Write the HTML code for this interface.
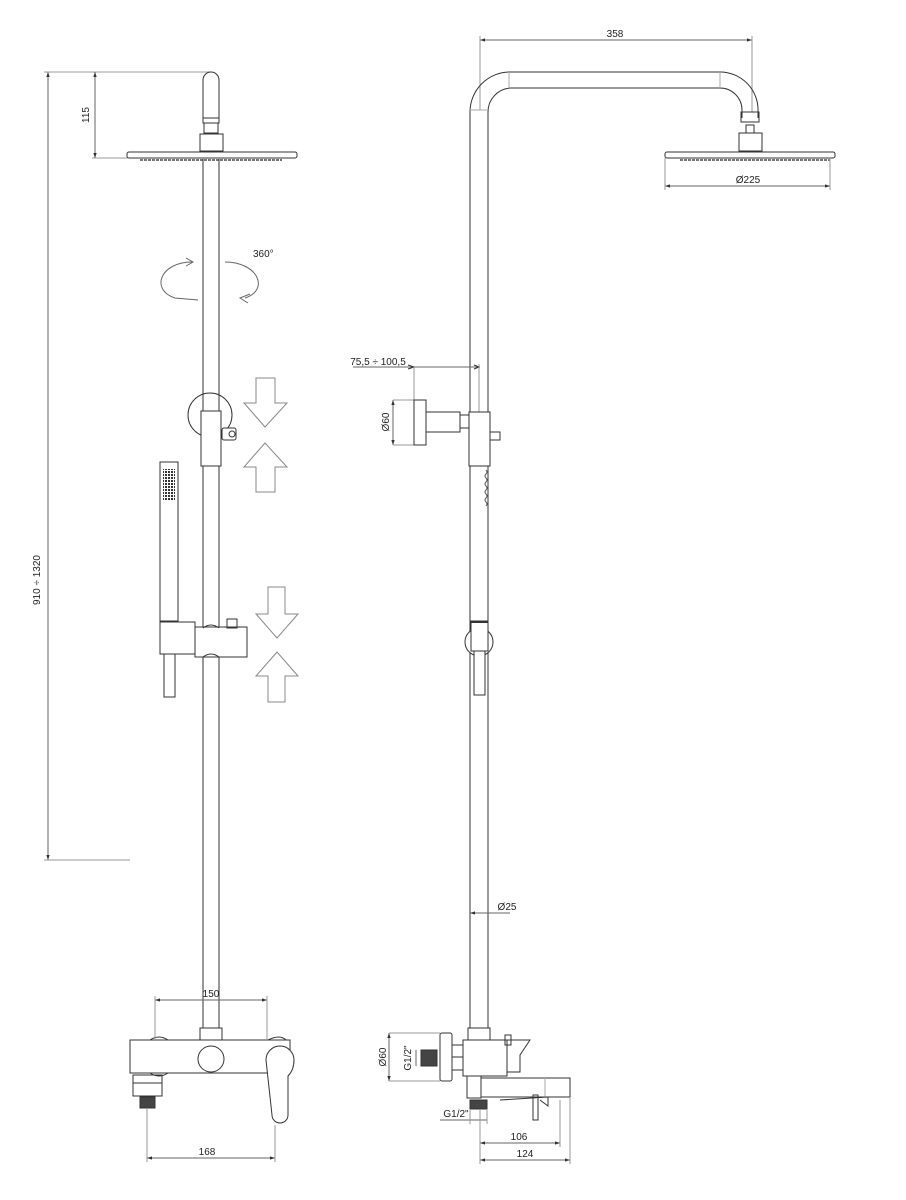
<!DOCTYPE html>
<html><head><meta charset="utf-8"><style>
html,body{margin:0;padding:0;background:#fff}
svg{display:block}
text{font-family:"Liberation Sans",sans-serif;font-size:10px;fill:#222}
</style></head><body>
<svg width="906" height="1200" viewBox="0 0 906 1200" xmlns="http://www.w3.org/2000/svg">
<defs>
<marker id="a" viewBox="0 0 6 6" refX="6" refY="3" markerWidth="5" markerHeight="5" orient="auto-start-reverse"><path d="M0,1 L6,3 L0,5z" fill="#333"/></marker>
<pattern id="dots" width="3" height="3" patternUnits="userSpaceOnUse"><rect width="2" height="2" fill="#333"/></pattern>
</defs>
<g fill="none" stroke="#333" stroke-width="1">
<line x1="48" y1="72" x2="48" y2="860" marker-start="url(#a)" marker-end="url(#a)" stroke="#666"/>
<line x1="44" y1="72" x2="210" y2="72" stroke="#999"/>
<line x1="44" y1="860" x2="130" y2="860" stroke="#999"/>
<line x1="95" y1="72" x2="95" y2="158" marker-start="url(#a)" marker-end="url(#a)" stroke="#666"/>
<line x1="92" y1="158" x2="128" y2="158" stroke="#999"/>
<path d="M203,118 V80 a8,8 0 0 1 16,0 V118"/>
<rect x="203" y="118" width="16" height="5"/>
<rect x="204" y="123" width="14" height="10"/>
<rect x="200" y="134" width="23" height="17"/>
<rect x="127" y="152" width="170" height="6" rx="2"/>
<line x1="140" y1="160" x2="282" y2="160" stroke="#777" stroke-width="2" stroke-dasharray="3,1"/>
<line x1="203" y1="159" x2="203" y2="1028"/>
<line x1="219" y1="159" x2="219" y2="1028"/>
<path d="M192,262 C160,262 150,290 175,298 L198,300" stroke="#666"/>
<path d="M186,258 L193,262 L186,266" stroke="#666"/>
<path d="M225,262 C258,262 270,290 245,298" stroke="#666"/>
<path d="M250,294 L240,298 L248,303" stroke="#666"/>
<circle cx="210" cy="415" r="22"/>
<rect x="201" y="411" width="20" height="55" fill="#fff"/>
<rect x="222" y="428" width="14" height="12" rx="2" fill="#fff"/>
<circle cx="232" cy="434" r="3"/>
<g stroke="#888">
<path d="M256,378 H275 V403 H287 L265,427 L244,403 H256 Z"/>
<path d="M256,492 H275 V467 H287 L265,443 L244,467 H256 Z"/>
<path d="M268,587 H285 V614 H298 L277,638 L256,614 H268 Z"/>
<path d="M268,702 H285 V676 H298 L277,652 L256,676 H268 Z"/>
</g>
<rect x="160" y="462" width="18" height="159"/>
<rect x="163" y="469" width="12" height="32" fill="url(#dots)" stroke="none"/>
<rect x="160" y="622" width="35" height="32" fill="#fff"/>
<rect x="195" y="627" width="52" height="30" fill="#fff"/>
<path d="M203,628 q8,-6 16,0 M203,657 q8,-6 16,0"/>
<rect x="227" y="619" width="10" height="9"/>
<rect x="164" y="654" width="11" height="43"/>
<path d="M130,1040 H290 V1073 H130 Z"/>
<rect x="200" y="1028" width="22" height="12"/>
<circle cx="211" cy="1059" r="13"/>
<path d="M150,1040 q9,-6 18,0 M150,1073 q9,6 18,0"/>
<rect x="133" y="1075" width="29" height="8"/>
<rect x="133" y="1083" width="29" height="13"/>
<rect x="140" y="1097" width="15" height="11" fill="#444"/>
<path d="M268,1040 q12,-6 18,0"/>
<path d="M266,1060 a14,14 0 0 1 28,0 q0,10 -6,16 V1115 a8,8 0 0 1 -16,0 Z" fill="#fff"/>
<line x1="155" y1="1000" x2="267" y2="1000" marker-start="url(#a)" marker-end="url(#a)" stroke="#666"/>
<line x1="155" y1="996" x2="155" y2="1040" stroke="#999"/>
<line x1="267" y1="996" x2="267" y2="1040" stroke="#999"/>
<line x1="147" y1="1158" x2="275" y2="1158" marker-start="url(#a)" marker-end="url(#a)" stroke="#666"/>
<line x1="147" y1="1108" x2="147" y2="1162" stroke="#999"/>
<line x1="275" y1="1125" x2="275" y2="1162" stroke="#999"/>

<line x1="480" y1="40" x2="752" y2="40" marker-start="url(#a)" marker-end="url(#a)" stroke="#666"/>
<line x1="480" y1="36" x2="480" y2="110" stroke="#999"/>
<line x1="752" y1="36" x2="752" y2="112" stroke="#999"/>
<path d="M470,1028 V112 A40,40 0 0 1 510,72 H720 A38,38 0 0 1 758,112 V118"/>
<path d="M488,1028 V112 A24,24 0 0 1 510,88 H720 A22,22 0 0 1 742,110 V118"/>
<line x1="509" y1="72" x2="509" y2="88" stroke="#aaa"/>
<line x1="720" y1="72" x2="720" y2="88" stroke="#aaa"/>
<line x1="470" y1="110" x2="488" y2="110" stroke="#aaa"/>
<rect x="741" y="112" width="18" height="10"/>
<rect x="746" y="125" width="8" height="8"/>
<rect x="739" y="133" width="23" height="18"/>
<rect x="665" y="152" width="170" height="6" rx="2"/>
<line x1="680" y1="160" x2="830" y2="160" stroke="#777" stroke-width="2" stroke-dasharray="3,1"/>
<line x1="665" y1="186" x2="830" y2="186" marker-start="url(#a)" marker-end="url(#a)" stroke="#666"/>
<line x1="665" y1="158" x2="665" y2="190" stroke="#999"/>
<line x1="830" y1="158" x2="830" y2="190" stroke="#999"/>
<line x1="353" y1="367" x2="480" y2="367" stroke="#666"/>
<path d="M414,367 L408,365 M414,367 L408,369 M479,367 L474,365 M479,367 L474,369" stroke="#333"/>
<line x1="414" y1="367" x2="414" y2="400" stroke="#999"/>
<line x1="479" y1="364" x2="479" y2="412" stroke="#999"/>
<line x1="393" y1="400" x2="393" y2="445" marker-start="url(#a)" marker-end="url(#a)" stroke="#666"/>
<line x1="393" y1="400" x2="414" y2="400" stroke="#999"/>
<line x1="393" y1="445" x2="414" y2="445" stroke="#999"/>
<rect x="414" y="400" width="12" height="45" fill="#fff"/>
<rect x="426" y="412" width="34" height="20" fill="#fff"/>
<rect x="460" y="415" width="10" height="13" fill="#fff"/>
<rect x="469" y="412" width="21" height="54" fill="#fff"/>
<rect x="490" y="432" width="10" height="8"/>
<path d="M486,470 q2,2 0,4 q-2,2 0,4 q2,2 0,4 q-2,2 0,4 q2,2 0,4 q-2,2 0,4 q2,2 0,4 q-2,2 0,4 q2,2 0,4" stroke="#555"/>
<circle cx="479" cy="642" r="14" fill="#fff"/>
<rect x="471" y="621" width="17" height="30" fill="#fff"/>
<rect x="474" y="651" width="11" height="44" fill="#fff"/>
<line x1="471" y1="622" x2="488" y2="622" stroke-width="2"/>
<line x1="470" y1="913" x2="488" y2="913" stroke="#666" marker-start="url(#a)"/>
<line x1="488" y1="913" x2="510" y2="913" stroke="#666"/>
<rect x="468" y="1028" width="22" height="12"/>
<rect x="463" y="1040" width="44" height="36" fill="#fff"/>
<rect x="467" y="1076" width="14" height="22"/>
<path d="M481,1078 H570 V1097 H481"/>
<line x1="545" y1="1078" x2="545" y2="1097" stroke="#aaa"/>
<path d="M500,1100 L548,1097 V1106 L540,1100"/>
<rect x="533" y="1095" width="5" height="25"/>
<path d="M507,1048 V1072 H520 V1055 L530,1040 H507"/>
<rect x="505" y="1035" width="6" height="10"/>
<rect x="470" y="1100" width="17" height="9" fill="#444"/>
<rect x="440" y="1033" width="12" height="48" rx="2"/>
<rect x="452" y="1045" width="11" height="25"/>
<line x1="452" y1="1057" x2="463" y2="1057"/>
<rect x="421" y="1050" width="16" height="16" fill="#444"/>
<line x1="389" y1="1033" x2="389" y2="1081" marker-start="url(#a)" marker-end="url(#a)" stroke="#666"/>
<line x1="389" y1="1033" x2="440" y2="1033" stroke="#999"/>
<line x1="389" y1="1081" x2="440" y2="1081" stroke="#999"/>
<line x1="416" y1="1050" x2="416" y2="1066" stroke="#666"/>
<line x1="440" y1="1120" x2="487" y2="1120" stroke="#666"/>
<line x1="470" y1="1109" x2="470" y2="1124" stroke="#999"/>
<line x1="487" y1="1109" x2="487" y2="1124" stroke="#999"/>
<line x1="480" y1="1143" x2="560" y2="1143" marker-start="url(#a)" marker-end="url(#a)" stroke="#666"/>
<line x1="480" y1="1160" x2="570" y2="1160" marker-start="url(#a)" marker-end="url(#a)" stroke="#666"/>
<line x1="480" y1="1110" x2="480" y2="1164" stroke="#999"/>
<line x1="560" y1="1100" x2="560" y2="1147" stroke="#999"/>
<line x1="570" y1="1097" x2="570" y2="1164" stroke="#999"/>
</g>
<text x="40" y="580" text-anchor="middle" transform="rotate(-90 40 580)">910 ÷ 1320</text>
<text x="89" y="115" text-anchor="middle" transform="rotate(-90 89 115)">115</text>
<text x="253" y="257">360°</text>
<text x="211" y="997" text-anchor="middle">150</text>
<text x="207" y="1155" text-anchor="middle">168</text>
<text x="615" y="37" text-anchor="middle">358</text>
<text x="748" y="183" text-anchor="middle">Ø225</text>
<text x="378" y="365" text-anchor="middle">75,5 ÷ 100,5</text>
<text x="389" y="422" text-anchor="middle" transform="rotate(-90 389 422)">Ø60</text>
<text x="507" y="910" text-anchor="middle">Ø25</text>
<text x="386" y="1057" text-anchor="middle" transform="rotate(-90 386 1057)">Ø60</text>
<text x="411" y="1058" text-anchor="middle" transform="rotate(-90 411 1058)">G1/2"</text>
<text x="456" y="1117" text-anchor="middle">G1/2"</text>
<text x="519" y="1140" text-anchor="middle">106</text>
<text x="525" y="1157" text-anchor="middle">124</text>
</svg>
</body></html>
